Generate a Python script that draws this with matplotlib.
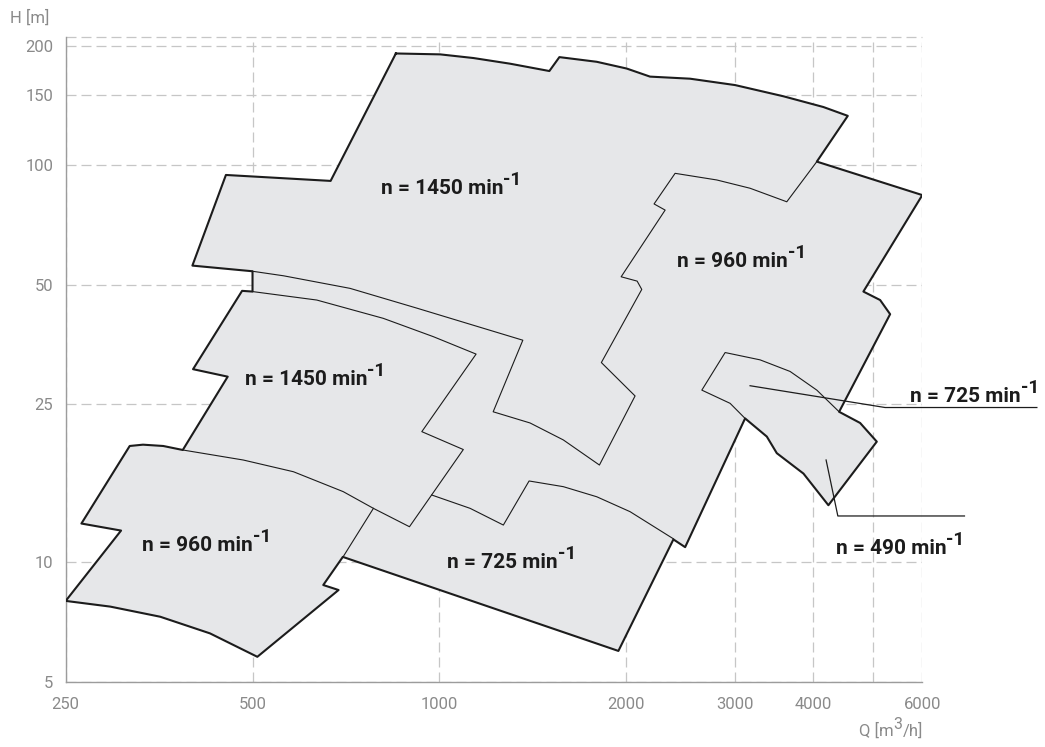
import matplotlib
matplotlib.use("Agg")
import matplotlib.pyplot as plt

plt.rcParams['font.family'] = ['Roboto', 'DejaVu Sans']

# Operating ranges as (Q [m3/h], H [m]) points

# outer border of all ranges together (drawn heavy)
outline = [(851, 191), (1003, 190), (1135, 186), (1300, 180), (1504, 172.5), (1561, 187),
           (1793, 182), (2004, 175), (2185, 167), (2535, 165), (2996, 159), (3584, 149),
           (4157, 140), (4551, 133), (4057, 102), (6000, 84), (4822, 48), (5131, 45.7),
           (5325, 42.1), (4407, 23.9), (4764, 22.4), (5068, 20.1), (4235, 13.9), (3861, 16.7),
           (3497, 18.8), (3370, 20.7), (3109, 23.0), (2489, 10.9), (2383, 11.4), (1943, 5.97),
           (699, 10.3), (650, 8.75), (688, 8.5), (509, 5.77), (427, 6.61), (355, 7.28),
           (295, 7.72), (250, 7.98), (307, 12.0), (265, 12.5), (317, 19.6), (333, 19.75),
           (359, 19.6), (386, 19.15), (456, 29.3), (401, 30.6), (481, 48.2), (500, 48.0),
           (500, 54.0), (400, 55.8), (453, 94.4), (668, 91.2)]

# inner borders between the ranges (drawn thin)
border_1450_top = [(500, 54.0), (561, 52.6), (718, 48.9), (920, 43.6), (1177, 38.8), (1363, 36.2),
                   (1221, 23.9), (1400, 22.4), (1584, 20.3), (1811, 17.55), (2067, 26.2),
                   (1824, 31.8), (2119, 48.6), (2083, 51.0), (1963, 52.3), (2311, 77.0),
                   (2218, 79.8), (2398, 95.3), (2799, 91.7), (3167, 87.4), (3629, 80.8),
                   (4057, 102)]
border_1450_mid = [(500, 48.0), (634.5, 45.7), (812, 41.1), (978, 36.95), (1146, 33.4),
                   (937, 21.3), (1093, 19.2), (895, 12.27), (783, 13.65), (700, 15.04),
                   (582, 16.88), (483, 18.07), (386, 19.15)]
border_960_low = [(783, 13.65), (699, 10.28)]
border_725_low = [(972, 14.75), (1121, 13.65), (1268, 12.39), (1395, 16.0), (1584, 15.48),
                  (1793, 14.6), (2029, 13.39), (2383, 11.44)]
border_725_490 = [(3109, 23.0), (2941, 25.1), (2648, 27.1), (2887, 33.7), (3287, 32.3),
                  (3674, 30.2), (4057, 27.1), (4407, 23.9)]

# leader lines for the two small ranges
leader_725 = [(3167, 27.8), (5227, 24.5), (9178, 24.5)]
leader_490 = [(4199, 18.07), (4386, 13.06), (7016, 13.06)]

speeds = ["1450", "1450", "960", "725", "960", "725", "490"]

x_ticks = [250, 500, 1000, 2000, 3000, 4000, 6000]
y_ticks = [5, 10, 25, 50, 100, 150, 200]

fill_color = '#e6e7e9'
line_color = '#1c1c1c'
grid_color = '#c6c6c6'
label_gray = '#8a8a8a'


def split(points):
    return [p[0] for p in points], [p[1] for p in points]


fig = plt.figure(figsize=(10.45, 7.47), dpi=100)
ax = fig.add_axes([0.06287, 0.08768, 0.81971, 0.86318])
ax.set_xscale('log')
ax.set_yscale('log')
ax.set_xlim(250, 6000)
ax.set_ylim(5, 210.5)

ax.set_xticks(x_ticks, [str(t) for t in x_ticks])
ax.set_xticks([5000], minor=True)
ax.set_yticks(y_ticks, [str(t) for t in y_ticks])
ax.set_yticks([], minor=True)
ax.tick_params(which='both', length=0, labelsize=12, labelcolor=label_gray)
ax.tick_params(axis='x', pad=11)
ax.tick_params(axis='y', pad=9)
ax.set_axisbelow(True)
ax.grid(True, which='both', color=grid_color, linestyle=(0, (8, 4)), linewidth=0.9)
ax.axhline(210.5, color=grid_color, linestyle=(0, (8, 4)), linewidth=0.9, zorder=0.5, clip_on=False)
for side in ['top', 'right']:
    ax.spines[side].set_visible(False)
for side in ['left', 'bottom']:
    ax.spines[side].set_color('#9c9c9c')
    ax.spines[side].set_linewidth(1.0)

# ranges
q, h = split(outline)
ax.fill(q, h, color=fill_color, lw=0, zorder=2)
ax.plot(q + q[:1], h + h[:1], color=line_color, lw=1.5, zorder=4)
for border in [border_1450_top, border_1450_mid, border_960_low, border_725_low, border_725_490]:
    q, h = split(border)
    ax.plot(q, h, color=line_color, lw=0.8, zorder=3)
for leader in [leader_725, leader_490]:
    q, h = split(leader)
    ax.plot(q, h, color=line_color, lw=0.9, zorder=5, clip_on=False)


def rich_text(x, y, parts, xycoords='data', size=15, color=line_color, weight='bold', align='left'):
    # parts: (text, rise in points, size factor); pieces are set one after another
    renderer = fig.canvas.get_renderer()
    texts, widths = [], []
    for txt, rise, scale in parts:
        t = ax.annotate(txt, (x, y), xycoords=xycoords, xytext=(0, rise), textcoords='offset points',
                        fontsize=size * scale, color=color, fontweight=weight, ha='left',
                        va='baseline', annotation_clip=False, zorder=6)
        texts.append(t)
        widths.append(t.get_window_extent(renderer).width * 72.0 / fig.dpi)
    start = -sum(widths) if align == 'right' else 0
    for t, w in zip(texts, widths):
        t.xyann = (start, t.xyann[1])
        start += w


label_pos = [(805, 84.5), (486, 27.9), (331.5, 10.68), (1030, 9.64), (2413, 55.4), (5736, 25.3), (4353, 10.47)]
for (x, y), n in zip(label_pos, speeds):
    rich_text(x, y, [("n = %s min" % n, 0, 1.0), ("-1", 6.5, 0.92)])

# axis titles
fig.text(10 / 1045, 1 - 18 / 747, "H [m]", fontsize=12, color=label_gray, va='center', ha='left')
rich_text(923 / 1045, 1 - 736 / 747, [("Q [m", 0, 1.0), ("3", 5, 0.95), ("/h]", 0, 1.0)],
          xycoords='figure fraction', size=12, color=label_gray, weight='normal', align='right')

fig.savefig("out.png", dpi=100)
